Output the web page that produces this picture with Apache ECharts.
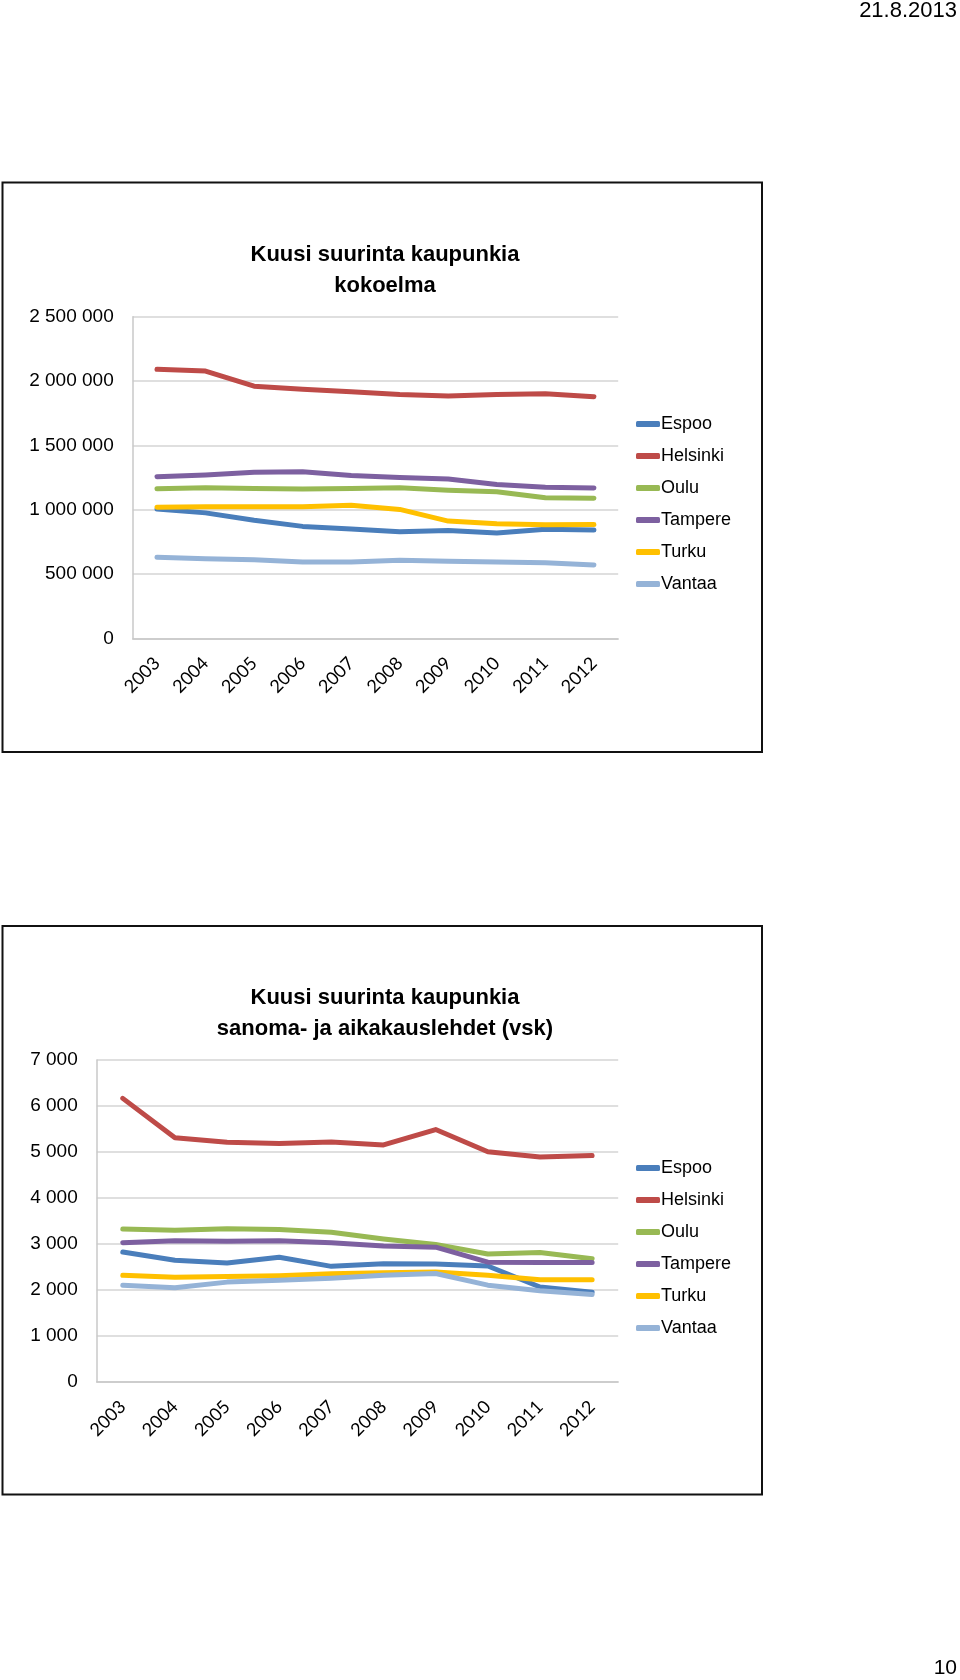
<!DOCTYPE html>
<html>
<head>
<meta charset="utf-8">
<script src="https://cdn.jsdelivr.net/npm/echarts@6/dist/echarts.min.js"></script>
<style>
html,body{margin:0;padding:0;background:#fff;}
#c{width:960px;height:1680px;}
</style>
</head>
<body>
<div id="c"></div>
<script>
const years = ['2003','2004','2005','2006','2007','2008','2009','2010','2011','2012'];
const cities = ['Espoo','Helsinki','Oulu','Tampere','Turku','Vantaa'];
const colors = ['#4A7EBB','#BE4B48','#98B954','#7D60A0','#FFC000','#95B3D7'];

// Chart 1: kokoelma
const title1 = 'Kuusi suurinta kaupunkia\nkokoelma';
const k_espoo    = [1005000, 975000, 917000, 870000, 850000, 829000, 838000, 818000, 847000, 841000];
const k_helsinki = [2091000, 2077000, 1960000, 1936000, 1916000, 1895000, 1884000, 1895000, 1901000, 1878000];
const k_oulu     = [1162000, 1171000, 1165000, 1160000, 1165000, 1171000, 1151000, 1139000, 1092000, 1089000];
const k_tampere  = [1256000, 1270000, 1291000, 1294000, 1265000, 1250000, 1238000, 1195000, 1174000, 1168000];
const k_turku    = [1019000, 1022000, 1022000, 1022000, 1034000, 1002000, 911000, 891000, 882000, 885000];
const k_vantaa   = [631000, 619000, 610000, 593000, 593000, 607000, 599000, 593000, 587000, 570000];

// Chart 2: sanoma- ja aikakauslehdet (vsk)
const title2 = 'Kuusi suurinta kaupunkia\nsanoma- ja aikakauslehdet (vsk)';
const s_espoo    = [2821, 2641, 2584, 2707, 2510, 2567, 2559, 2518, 2061, 1946];
const s_helsinki = [6165, 5307, 5208, 5184, 5217, 5151, 5487, 5004, 4890, 4922];
const s_oulu     = [3320, 3295, 3328, 3312, 3254, 3107, 2985, 2780, 2813, 2674];
const s_tampere  = [3025, 3066, 3058, 3066, 3025, 2952, 2927, 2600, 2592, 2592];
const s_turku    = [2314, 2273, 2290, 2306, 2347, 2371, 2388, 2314, 2216, 2216];
const s_vantaa   = [2101, 2044, 2167, 2208, 2249, 2314, 2355, 2101, 1979, 1897];

const headerText = '21.8.2013';
const pageNumber = '10';

const data1 = [k_espoo, k_helsinki, k_oulu, k_tampere, k_turku, k_vantaa];
const data2 = [s_espoo, s_helsinki, s_oulu, s_tampere, s_turku, s_vantaa];

function fmt(v){ return String(v).replace(/\B(?=(\d{3})+(?!\d))/g, ' '); }

const chart = echarts.init(document.getElementById('c'), null, {renderer:'canvas'});

const axisLabelY = {fontFamily:'Liberation Sans, Arial, sans-serif', fontSize:19, color:'#000', margin:19, formatter: fmt};
const axisLabelX = {fontFamily:'Lato, Open Sans, sans-serif', fontSize:18, color:'#000', rotate:45, margin:22, interval:0};
const gridLineColor = '#D4D4D4';

function xAx(gi){
  return {type:'category', gridIndex:gi, data:years, boundaryGap:true,
    axisLine:{show:true, lineStyle:{color:'#C8C8C8', width:1.5}},
    axisTick:{show:false}, axisLabel:axisLabelX};
}
function yAx(gi, max, interval){
  return {type:'value', gridIndex:gi, min:0, max:max, interval:interval,
    axisLine:{show:true, lineStyle:{color:'#C8C8C8', width:1.5}},
    axisTick:{show:false},
    splitLine:{show:true, lineStyle:{color:gridLineColor, width:1.5}},
    axisLabel:axisLabelY};
}

const series = [];
[data1, data2].forEach((set, gi) => {
  set.forEach((vals, i) => {
    series.push({
      name: cities[i], type:'line', xAxisIndex:gi, yAxisIndex:gi,
      data: vals, symbol:'none', smooth:false,
      lineStyle:{color:colors[i], width:5, cap:'round', join:'round'},
      itemStyle:{color:colors[i]},
      emphasis:{disabled:true}, animation:false
    });
  });
});

const legendBase = {
  orient:'vertical', left:631, icon:'roundRect', itemWidth:24, itemHeight:6,
  itemGap:12, data:cities, selectedMode:false,
  textStyle:{fontFamily:'Liberation Sans, Arial, sans-serif', fontSize:18, color:'#000', lineHeight:20, padding:[0,0,0,-4]}
};

const titleStyle = {fontFamily:'Liberation Sans, Arial, sans-serif', fontSize:22, fontWeight:'bold', color:'#000', lineHeight:31};

chart.setOption({
  animation:false,
  color: colors,
  title:[
    {text:title1, left:385, top:239, textAlign:'center', textStyle:titleStyle, padding:0},
    {text:title2, left:385, top:982, textAlign:'center', textStyle:titleStyle, padding:0}
  ],
  legend:[
    Object.assign({}, legendBase, {top:409}),
    Object.assign({}, legendBase, {top:1153})
  ],
  grid:[
    {left:132.7, top:316.7, width:485.5, height:321.6, containLabel:false},
    {left:96.7, top:1060, width:521.5, height:321.7, containLabel:false}
  ],
  xAxis:[xAx(0), xAx(1)],
  yAxis:[yAx(0, 2500000, 500000), yAx(1, 7000, 1000)],
  series: series,
  graphic:[
    {type:'rect', shape:{x:2.5, y:182.5, width:759.5, height:569.5}, style:{fill:'none', stroke:'#111', lineWidth:2}, silent:true, z:-1},
    {type:'rect', shape:{x:2.5, y:926, width:759.5, height:568.5}, style:{fill:'none', stroke:'#111', lineWidth:2}, silent:true, z:-1},
    {type:'text', right:3, top:0, style:{text:headerText, fontFamily:'Liberation Sans, Arial, sans-serif', fontSize:22, fill:'#000'}},
    {type:'text', right:3, top:1658, style:{text:pageNumber, fontFamily:'Liberation Sans, Arial, sans-serif', fontSize:21, fill:'#000'}}
  ]
});
</script>
</body>
</html>
